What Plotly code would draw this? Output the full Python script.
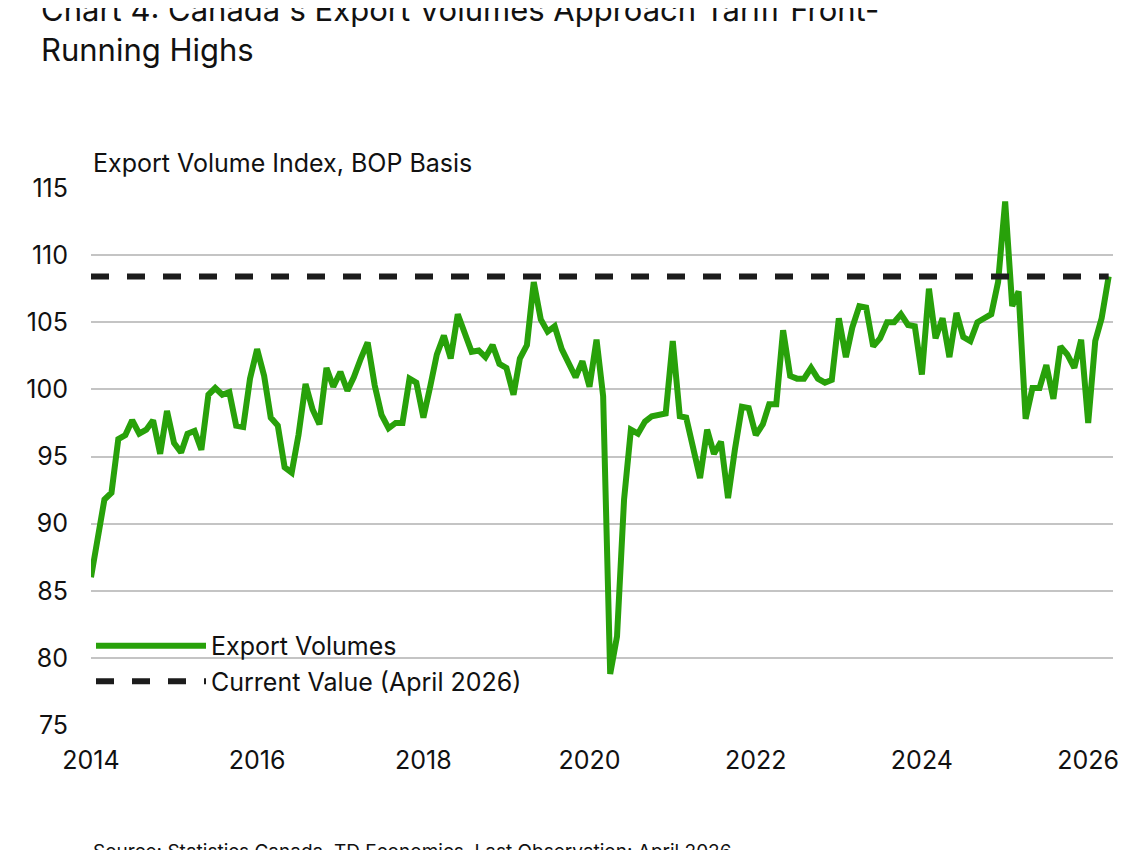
import pandas as pd
import plotly.graph_objects as pg

dates = pd.date_range("2014-01-01", "2026-04-01", freq="MS")

export_volumes = [
    86.0, 89.0, 91.8, 92.3, 96.3, 96.6, 97.7, 96.7, 97.0, 97.7, 95.2, 98.4,
    96.0, 95.3, 96.7, 96.9, 95.5, 99.6, 100.1, 99.6, 99.8, 97.3, 97.2, 100.8,
    103.0, 101.0, 97.9, 97.3, 94.2, 93.8, 96.6, 100.4, 98.5, 97.4, 101.6, 100.2,
    101.3, 99.9, 100.9, 102.3, 103.5, 100.3, 98.1, 97.1, 97.5, 97.5, 100.8, 100.5,
    97.9, 100.3, 102.6, 104.0, 102.3, 105.6, 104.1, 102.8, 102.9, 102.4, 103.3, 101.9,
    101.6, 99.6, 102.3, 103.3, 108.0, 105.2, 104.3, 104.7, 103.0, 102.0, 100.9, 102.1,
    100.2, 103.7, 99.5, 78.8, 81.6, 91.8, 97.0, 96.7, 97.6, 98.0, 98.1, 98.2,
    103.6, 98.0, 97.9, 95.5, 93.4, 97.0, 95.2, 96.1, 91.9, 95.5, 98.7, 98.6,
    96.6, 97.4, 98.9, 98.9, 104.4, 101.0, 100.8, 100.8, 101.6, 100.8, 100.5, 100.7,
    105.3, 102.4, 104.6, 106.2, 106.1, 103.2, 103.8, 105.0, 105.0, 105.6, 104.8, 104.7,
    101.1, 107.5, 103.8, 105.3, 102.4, 105.7, 103.9, 103.6, 105.0, 105.3, 105.6, 108.0,
    114.0, 106.2, 107.3, 97.8, 100.1, 100.1, 101.8, 99.3, 103.2, 102.6, 101.6, 103.7,
    97.5, 103.6, 105.3, 108.4,
]
current_value = export_volumes[-1]

fig = pg.Figure()
fig.add_trace(pg.Scatter(x=dates, y=export_volumes, mode="lines", name="Export Volumes",
                         line=dict(color="#28a10a", width=6)))
fig.add_trace(pg.Scatter(x=dates, y=[current_value] * len(dates), mode="lines",
                         name="Current Value (April 2026)",
                         line=dict(color="#1c1c1c", width=6, dash="dash")))

fig.update_layout(
    width=1138, height=850,
    paper_bgcolor="white", plot_bgcolor="white",
    font=dict(family="Inter, Roboto, sans-serif", size=25, color="#111111"),
    margin=dict(l=83, r=33, t=180, b=133),
    title=dict(text="Chart 4: Canada's Export Volumes Approach Tariff Front-<br>Running Highs",
               x=0, xref="paper", xanchor="left", y=0.985, yanchor="top",
               font=dict(size=31), pad=dict(l=-50)),
    showlegend=True,
    legend=dict(x=0.0, y=0.19, xanchor="left", yanchor="top", bgcolor="rgba(0,0,0,0)",
                font=dict(size=25), itemwidth=110, tracegroupgap=30),
    xaxis=dict(range=["2014-01-01", "2026-04-20"], tickformat="%Y", dtick="M24",
               tick0="2014-01-01", showgrid=False, showline=False, ticks="",
               ticklabelstandoff=18),
    yaxis=dict(range=[75, 115], dtick=5, showgrid=True, gridcolor="#c4c4c4",
               gridwidth=2, zeroline=False, showline=False, ticks="",
               ticklabelstandoff=22),
    annotations=[
        dict(text="Export Volume Index, BOP Basis", x=0, y=1.015, xref="paper",
             yref="paper", xanchor="left", yanchor="bottom", showarrow=False,
             font=dict(size=25)),
        dict(text="Source: Statistics Canada, TD Economics. Last Observation: April 2026.",
             x=0, y=-0.21, xref="paper", yref="paper", xanchor="left", yanchor="top",
             showarrow=False, font=dict(size=19)),
    ],
)

fig.write_html("out.html")
